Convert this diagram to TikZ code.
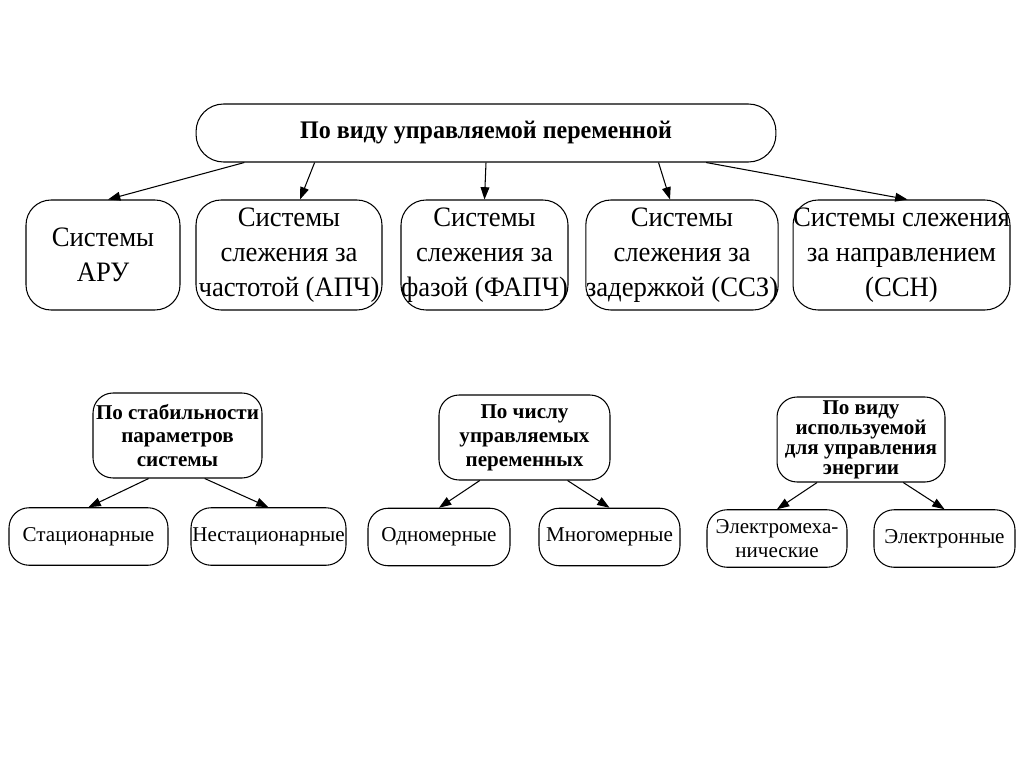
\documentclass[tikz,border=0pt]{standalone}
\usepackage{fontspec}
\setmainfont{Liberation Serif}
\newfontfamily\narrowserif[FakeStretch=0.95]{Liberation Serif}
\usetikzlibrary{arrows.meta,calc}

\begin{document}
\begin{tikzpicture}[x=0.02cm, y=-0.02cm,
			bignode/.style={draw, rounded corners=5mm, align=center, inner sep=0pt, minimum height=2.2cm, line width=0.6pt, font=\narrowserif\fontsize{16}{20}\selectfont},
			headnode/.style={draw, rounded corners=4mm, align=center, inner sep=0pt, minimum height=1.7cm, line width=0.6pt, font=\fontsize{12}{13.6}\selectfont\bfseries},
			leafnode/.style={draw, rounded corners=4mm, align=center, inner sep=0pt, minimum height=1.15cm, line width=0.6pt, font=\fontsize{12}{13.6}\selectfont},
			arr/.style={-{Triangle[length=7pt,width=5pt]}, line width=0.6pt}
		]
		\useasboundingbox (0,0) rectangle (1024,767);

		\node[draw, rounded corners=5.5mm, minimum width=11.6cm, minimum height=1.16cm, inner sep=0pt, line width=0.6pt, font=\narrowserif\fontsize{14.4}{17}\selectfont\bfseries] (vid) at (486,133) {По виду управляемой переменной};

		\node[bignode, minimum width=3.08cm] (aru) at (103,255) {Системы\\АРУ};
		\node[bignode, minimum width=3.72cm] (apch) at (289,255) {Системы\\слежения за\\частотой (АПЧ)};
		\node[bignode, minimum width=3.34cm] (fapch) at (484.5,255) {Системы\\слежения за\\фазой (ФАПЧ)};
		\node[bignode, minimum width=3.76cm] (ssz) at (682,255) {Системы\\слежения за\\задержкой (ССЗ)};
		\node[bignode, minimum width=4.34cm] (ssn) at (901.5,255) {Системы слежения\\за направлением\\(ССН)};

		\draw[arr] ($(vid.south west)!0.084!(vid.south east)$) -- ($(aru.north)+(5,0)$);
		\draw[arr] ($(vid.south west)!0.205!(vid.south east)$) -- ($(apch.north)+(11,0)$);
		\draw[arr] (vid.south) -- (fapch.north);
		\draw[arr] ($(vid.south west)!0.797!(vid.south east)$) -- ($(ssz.north)+(-12,0)$);
		\draw[arr] ($(vid.south west)!0.879!(vid.south east)$) -- ($(ssn.north)+(6,0)$);

		\node[headnode, minimum width=3.38cm] (stab) at (177.5,435.5) {По стабильности\\параметров\\системы};
		\node[leafnode, minimum width=3.18cm] (stac) at (88.5,536.5) {Стационарные};
		\node[leafnode, minimum width=3.1cm] (nestac) at (268.5,536.5) {Нестационарные};
		\draw[arr] ($(stab.south west)!0.33!(stab.south east)$) -- (stac.north);
		\draw[arr] ($(stab.south west)!0.66!(stab.south east)$) -- (nestac.north);

		\node[headnode, minimum width=3.42cm] (chislo) at (524.5,437.5) {По числу\\управляемых\\переменных};
		\node[leafnode, minimum width=2.84cm] (odno) at (439,537) {Одномерные};
		\node[leafnode, minimum width=2.82cm] (mnogo) at (609.5,537) {Многомерные};
		\draw[arr] ($(chislo.south west)!0.24!(chislo.south east)$) -- (odno.north);
		\draw[arr] ($(chislo.south west)!0.75!(chislo.south east)$) -- (mnogo.north);

		\node[headnode, minimum width=3.36cm, font=\fontsize{12}{11.4}\selectfont\bfseries] (energ) at (861,439.5) {По виду\\используемой\\для управления\\энергии};
		\node[leafnode, minimum width=2.8cm] (elmeh) at (777,538.5) {Электромеха-\\нические};
		\node[leafnode, minimum width=2.82cm] (elektr) at (944.5,538.5) {Электронные};
		\draw[arr] ($(energ.south west)!0.24!(energ.south east)$) -- (elmeh.north);
		\draw[arr] ($(energ.south west)!0.75!(energ.south east)$) -- (elektr.north);

	\end{tikzpicture}
\end{document}
